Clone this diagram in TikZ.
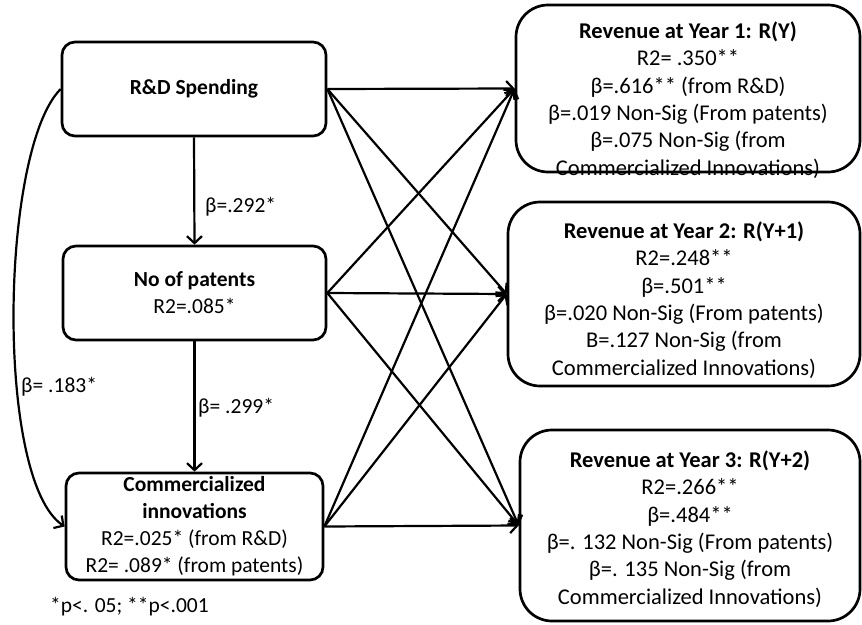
\documentclass[tikz,border=0pt]{standalone}
\usepackage{fontspec}
\setmainfont{Carlito}
\usetikzlibrary{arrows.meta}
\begin{document}
\begin{tikzpicture}[x=1pt,y=-1pt,
  box/.style={draw=black, line width=2.7pt, rounded corners=13pt, inner sep=0pt, align=center, font=\fontsize{21.5}{27}\selectfont},
  rbox/.style={draw=black, line width=2.7pt, rounded corners=32pt, inner sep=0pt},
  txt/.style={align=center, inner sep=0pt, font=\fontsize{22.5}{27.3}\selectfont},
  lbl/.style={anchor=west, inner sep=0pt, font=\fontsize{21.5}{27}\selectfont},
  arr/.style={line width=2.2pt, -{Straight Barb[length=7pt,width=15pt,line width=2.2pt]}}
]
\useasboundingbox (0,0) rectangle (862,624);

% left boxes
\node[box, minimum width=264pt, minimum height=94pt] (rd) at (194,89) {\textbf{R\&D Spending}};
\node[box, minimum width=263pt, minimum height=94pt] (pt) at (194.5,293) {\textbf{No of patents}\\R2=.085*};
\node[box, minimum width=257pt, minimum height=107pt] (ci) at (194.5,526.5) {\textbf{Commercialized}\\\textbf{innovations}\\R2=.025* (from R\&D)\\R2= .089* (from patents)};

% right boxes
\node[rbox, minimum width=344pt, minimum height=167pt] (r1) at (688,88.5) {};
\node[rbox, minimum width=352pt, minimum height=184pt] (r2) at (684,294) {};
\node[rbox, minimum width=340pt, minimum height=191pt] (r3) at (690,525.5) {};

\node[txt] (t1) at (688,100) {\textbf{Revenue at Year 1: R(Y)}\\R2= .350**\\β=.616** (from R\&D)\\β=.019 Non-Sig (From patents)\\β=.075 Non-Sig (from\\Commercialized Innovations)};
\node[txt] (t2) at (684,300) {\textbf{Revenue at Year 2: R(Y+1)}\\R2=.248**\\β=.501**\\β=.020 Non-Sig (From patents)\\B=.127 Non-Sig (from\\Commercialized Innovations)};
\node[txt] (t3) at (690,529) {\textbf{Revenue at Year 3: R(Y+2)}\\R2=.266**\\β=.484**\\β=. 132 Non-Sig (From patents)\\β=. 135 Non-Sig (from\\Commercialized Innovations)};

% vertical arrows
\draw[arr] (rd.south) -- (pt.north);
\draw[arr] (pt.south) -- (ci.north);
% curved arrow
\draw[arr] (rd.west) .. controls (0,150) and (-5,480) .. (ci.west);

% cross arrows
\foreach \s in {rd,pt,ci}{
  \foreach \t in {r1,r2,r3}{
    \draw[arr] (\s.east) -- (\t.west);
  }
}

% labels
\node[lbl] (l1) at (205,207) {β=.292*};
\node[lbl] (l2) at (198,408) {β= .299*};
\node[lbl] (l3) at (21,387) {β= .183*};
\node[lbl] (fn) at (50,607) {*p<. 05; **p<.001};
\end{tikzpicture}
\end{document}
